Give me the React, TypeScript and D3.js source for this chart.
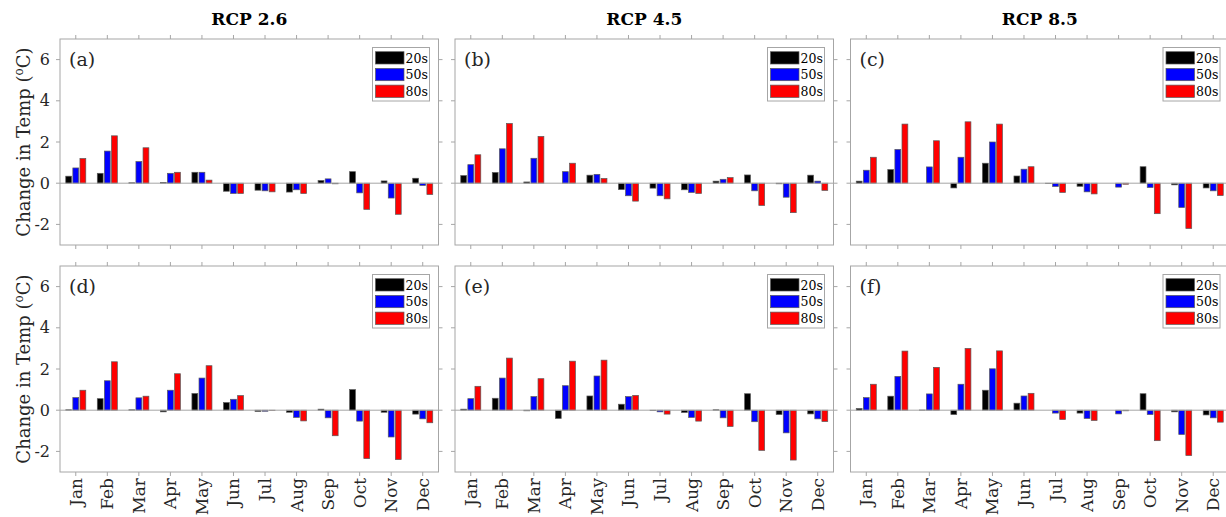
import React from 'react';
import * as d3 from 'd3';

const months = ['Jan', 'Feb', 'Mar', 'Apr', 'May', 'Jun', 'Jul', 'Aug', 'Sep', 'Oct', 'Nov', 'Dec'];
const periods = ['20s', '50s', '80s'];
const periodColors = ['#000000', '#0000ff', '#ff0000'];
const scenarios = ['RCP 2.6', 'RCP 4.5', 'RCP 8.5'];
const panelLabels = ['(a)', '(b)', '(c)', '(d)', '(e)', '(f)'];
const yTicks = [-2, 0, 2, 4, 6];

// Panel (a) RCP 2.6, top row
const a20s = [0.34, 0.48, 0.02, 0.03, 0.53, -0.39, -0.34, -0.43, 0.13, 0.56, 0.11, 0.24];
const a50s = [0.74, 1.56, 1.05, 0.48, 0.53, -0.5, -0.37, -0.32, 0.21, -0.47, -0.72, -0.11];
const a80s = [1.2, 2.3, 1.72, 0.53, 0.15, -0.5, -0.42, -0.5, -0.03, -1.27, -1.51, -0.55];
// Panel (b) RCP 4.5, top row
const b20s = [0.37, 0.52, 0.06, 0.0, 0.39, -0.31, -0.24, -0.32, 0.1, 0.4, -0.03, 0.39];
const b50s = [0.9, 1.67, 1.21, 0.56, 0.43, -0.61, -0.61, -0.45, 0.19, -0.37, -0.68, 0.1];
const b80s = [1.38, 2.9, 2.27, 0.97, 0.23, -0.87, -0.76, -0.5, 0.27, -1.08, -1.43, -0.35];
// Panel (c) RCP 8.5, top row
const c20s = [0.1, 0.66, 0.0, -0.23, 0.97, 0.35, -0.02, -0.15, 0.0, 0.8, -0.08, -0.23];
const c50s = [0.63, 1.64, 0.79, 1.26, 2.0, 0.68, -0.16, -0.42, -0.19, -0.21, -1.18, -0.37];
const c80s = [1.26, 2.87, 2.06, 2.98, 2.87, 0.8, -0.45, -0.52, -0.05, -1.48, -2.2, -0.6];
// Panel (d) RCP 2.6, bottom row
const d20s = [0.02, 0.56, 0.02, -0.08, 0.81, 0.37, -0.06, -0.1, 0.05, 1.0, -0.1, -0.19];
const d50s = [0.61, 1.43, 0.6, 0.97, 1.56, 0.53, -0.05, -0.35, -0.37, -0.53, -1.3, -0.42];
const d80s = [0.97, 2.35, 0.68, 1.77, 2.16, 0.71, -0.01, -0.52, -1.24, -2.35, -2.4, -0.61];
// Panel (e) RCP 4.5, bottom row
const e20s = [0.05, 0.58, -0.03, -0.4, 0.69, 0.29, -0.02, -0.11, 0.02, 0.8, -0.21, -0.18];
const e50s = [0.56, 1.56, 0.66, 1.19, 1.66, 0.66, -0.08, -0.35, -0.37, -0.56, -1.1, -0.42];
const e80s = [1.16, 2.53, 1.53, 2.38, 2.43, 0.72, -0.19, -0.53, -0.79, -1.95, -2.42, -0.55];
// Panel (f) RCP 8.5, bottom row
const f20s = [0.08, 0.68, 0.01, -0.21, 0.97, 0.34, 0.0, -0.14, 0.0, 0.8, -0.08, -0.23];
const f50s = [0.61, 1.64, 0.79, 1.26, 2.01, 0.69, -0.14, -0.4, -0.18, -0.21, -1.18, -0.37];
const f80s = [1.26, 2.87, 2.08, 3.0, 2.88, 0.82, -0.45, -0.5, -0.03, -1.48, -2.2, -0.58];

const panelSeries = [
  [a20s, a50s, a80s],
  [b20s, b50s, b80s],
  [c20s, c50s, c80s],
  [d20s, d50s, d80s],
  [e20s, e50s, e80s],
  [f20s, f50s, f80s],
];

const FONT = '"DejaVu Serif", serif';
const panelLefts = [60, 455, 850.5];
const panelTops = [39, 266];
const PW = 378.5;
const PH = 206;
const AXIS = '#a6a6a6';
const TXT = '#262626';

function Panel({ idx }: { idx: number }) {
  const col = idx % 3;
  const row = Math.floor(idx / 3);
  const left = panelLefts[col];
  const top = panelTops[row];
  const x = d3.scaleLinear().domain([0.5, 12.5]).range([left, left + PW]);
  const y = d3.scaleLinear().domain([-3, 7]).range([top + PH, top]);
  const offsets = [-0.225, 0, 0.225];
  const bw = x(0.185) - x(0);
  const series = panelSeries[idx];
  const legRight = left + PW - 9;
  const legW = 57;
  const legL = legRight - legW;
  const legT = top + 8.5;
  return (
    <g>
      <defs>
        <clipPath id={`clip${idx}`}>
          <rect x={left} y={top} width={PW} height={PH} />
        </clipPath>
      </defs>
      {/* ticks */}
      {months.map((m, i) => (
        <g key={m}>
          <line x1={x(i + 1)} x2={x(i + 1)} y1={top} y2={top - 4} stroke={AXIS} strokeWidth={1} />
          <line x1={x(i + 1)} x2={x(i + 1)} y1={top + PH} y2={top + PH + 4} stroke={AXIS} strokeWidth={1} />
        </g>
      ))}
      {yTicks.map((t) => (
        <g key={t}>
          <line x1={left} x2={left - 4} y1={y(t)} y2={y(t)} stroke={AXIS} strokeWidth={1} />
          <line x1={left + PW} x2={left + PW + 4} y1={y(t)} y2={y(t)} stroke={AXIS} strokeWidth={1} />
        </g>
      ))}
      <g clipPath={`url(#clip${idx})`}>
        {series.map((vals, s) =>
          vals.map((v, i) => {
            const cx = x(i + 1 + offsets[s]);
            const y0 = y(0);
            const yv = y(v);
            return (
              <rect
                key={`${s}-${i}`}
                x={cx - bw / 2}
                y={Math.min(y0, yv)}
                width={bw}
                height={Math.abs(yv - y0)}
                fill={periodColors[s]}
                stroke="#5a5a5a"
                strokeWidth={0.7}
              />
            );
          })
        )}
        <line x1={left} x2={left + PW} y1={y(0)} y2={y(0)} stroke={AXIS} strokeWidth={1} />
      </g>
      <rect x={left} y={top} width={PW} height={PH} fill="none" stroke={AXIS} strokeWidth={1} />
      <text x={left + 9} y={top + 27} fontFamily={FONT} fontSize={19} fill={TXT}>
        {panelLabels[idx]}
      </text>
      {/* legend */}
      <rect x={legL} y={legT} width={legW} height={53.5} fill="#ffffff" stroke={AXIS} strokeWidth={1} />
      {periods.map((p, s) => {
        const sy = legT + 4.2 + s * 16.7;
        return (
          <g key={p}>
            <rect x={legL + 3} y={sy} width={28.5} height={12.3} fill={periodColors[s]} stroke="#5a5a5a" strokeWidth={0.7} />
            <text x={legL + 33} y={sy + 6.3} dominantBaseline="central" fontFamily={FONT} fontSize={12.5} fill="#000">
              {p}
            </text>
          </g>
        );
      })}
      {col === 0 &&
        yTicks.map((t) => (
          <text key={t} x={left - 10} y={y(t)} textAnchor="end" dominantBaseline="central" fontFamily={FONT} fontSize={16} fill={TXT}>
            {t}
          </text>
        ))}
      {col === 0 && (
        <text
          transform={`translate(30, ${top + PH / 2}) rotate(-90)`}
          textAnchor="middle"
          fontFamily={FONT}
          fontSize={18}
          fill={TXT}
        >
          Change in Temp (<tspan fontSize={12} dy={-7}>o</tspan>
          <tspan dy={7}>C)</tspan>
        </text>
      )}
      {row === 0 && (
        <text x={left + PW / 2} y={25} textAnchor="middle" fontFamily={FONT} fontWeight="bold" fontSize={17} fill="#000">
          {scenarios[col]}
        </text>
      )}
      {row === 1 &&
        months.map((m, i) => (
          <text
            key={m}
            transform={`translate(${x(i + 1)}, ${top + PH + 6}) rotate(-90)`}
            textAnchor="end"
            dominantBaseline="central"
            fontFamily={FONT}
            fontSize={17}
            fill={TXT}
          >
            {m}
          </text>
        ))}
    </g>
  );
}

export default function App() {
  return (
    <div style={{ position: 'absolute', left: 0, top: 0 }}>
      <svg width={1226} height={517} style={{ display: 'block', background: '#ffffff' }}>
        {panelSeries.map((_, i) => (
          <Panel key={i} idx={i} />
        ))}
      </svg>
    </div>
  );
}
